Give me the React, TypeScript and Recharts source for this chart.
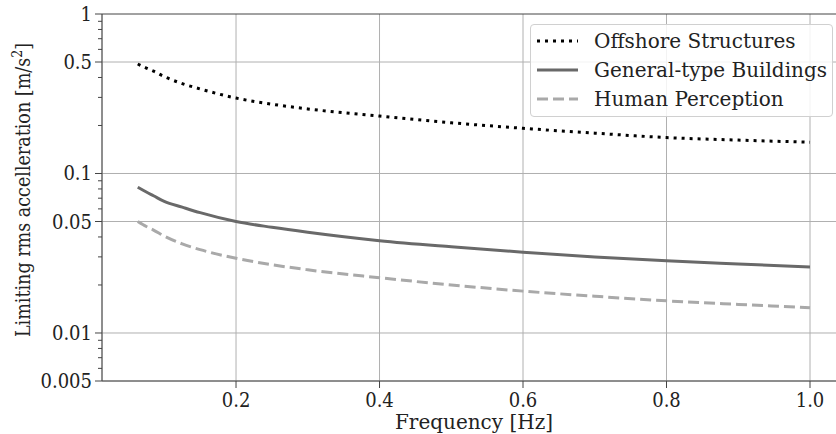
import React from 'react'
import { LineChart, Line, XAxis, YAxis, CartesianGrid, ReferenceLine, Legend } from 'recharts'

const freqs = [0.063, 0.075, 0.085, 0.1, 0.125, 0.15, 0.2, 0.25, 0.3, 0.4, 0.5, 0.6, 0.7, 0.8, 0.9, 1.0]
const offshore = [0.486, 0.458, 0.438, 0.405, 0.366, 0.339, 0.297, 0.272, 0.254, 0.229, 0.208, 0.192, 0.179, 0.168, 0.162, 0.157]
const buildings = [0.082, 0.0765, 0.0725, 0.0668, 0.0615, 0.0568, 0.05, 0.046, 0.0428, 0.0379, 0.0347, 0.0321, 0.03, 0.0284, 0.0271, 0.0259]
const perception = [0.05, 0.0465, 0.0442, 0.0405, 0.0362, 0.0333, 0.0294, 0.0268, 0.0249, 0.0222, 0.02, 0.0183, 0.017, 0.0159, 0.0151, 0.0144]

const xTicks = [0.2, 0.4, 0.6, 0.8, 1.0]
const yMajor = [0.005, 0.01, 0.05, 0.1, 0.5, 1]
const yMinor = [0.006, 0.007, 0.008, 0.009, 0.02, 0.03, 0.04, 0.06, 0.07, 0.08, 0.09, 0.2, 0.3, 0.4, 0.6, 0.7, 0.8, 0.9]
const yLabels: Record<string, string> = { '0.005': '0.005', '0.01': '0.01', '0.05': '0.05', '0.1': '0.1', '0.5': '0.5', '1': '1' }

const series = [
  { key: 'offshore', name: 'Offshore Structures', color: '#000000', dash: '3 5' },
  { key: 'buildings', name: 'General-type Buildings', color: '#696969', dash: undefined },
  { key: 'perception', name: 'Human Perception', color: '#a9a9a9', dash: '11 5' },
]

const data = freqs.map((f, i) => ({
  f,
  offshore: offshore[i],
  buildings: buildings[i],
  perception: perception[i],
}))

const SERIF = '"DejaVu Serif", serif'
const COND = '"DejaVu Serif Condensed", "DejaVu Serif", serif'
const FS = 20
const AXIS = '#444444'
const GRID = '#b0b0b0'

const YTick = (props: any) => {
  const { x, y, payload } = props
  const v = payload.value
  const label = yLabels[String(v)]
  const major = label !== undefined
  return (
    <g>
      <line x1={x - (major ? 7 : 4)} x2={x} y1={y} y2={y} stroke={AXIS} strokeWidth={1} />
      {major && (
        <text x={x - 10} y={y} dy={7} textAnchor="end" fontFamily={COND} fontSize={FS} fill="#222">
          {label}
        </text>
      )}
    </g>
  )
}

const XTick = (props: any) => {
  const { x, y, payload } = props
  return (
    <g>
      <line x1={x} x2={x} y1={y} y2={y + 7} stroke={AXIS} strokeWidth={1} />
      <text x={x} y={y + 26} textAnchor="middle" fontFamily={COND} fontSize={FS} fill="#222">
        {Number(payload.value).toFixed(1)}
      </text>
    </g>
  )
}

const LegendBox = () => (
  <div
    style={{
      width: 303,
      height: 93,
      border: '1px solid #d0d0d0',
      borderRadius: 4,
      background: 'rgba(255,255,255,0.85)',
      boxSizing: 'border-box',
      paddingTop: 1,
    }}
  >
    {series.map((s) => (
      <div key={s.key} style={{ display: 'flex', alignItems: 'center', height: 29 }}>
        <svg width={63} height={10} style={{ flex: 'none' }}>
          <line x1={6} x2={47} y1={5} y2={5} stroke={s.color} strokeWidth={3} strokeDasharray={s.dash} />
        </svg>
        <span style={{ fontFamily: SERIF, fontSize: FS, color: '#222', whiteSpace: 'nowrap' }}>{s.name}</span>
      </div>
    ))}
  </div>
)

export default function App() {
  return (
    <div style={{ position: 'absolute', left: 0, top: 0, width: 836, height: 434, overflow: 'hidden', background: '#fff' }}>
      <LineChart width={850} height={434} data={data} margin={{ top: 14, right: 8, left: 0, bottom: 0 }}>
        <CartesianGrid horizontal={false} stroke={GRID} strokeWidth={1} />
        <XAxis
          dataKey="f"
          type="number"
          domain={[0.0132, 1.0446]}
          ticks={xTicks}
          allowDataOverflow
          height={53}
          tickSize={0}
          tickMargin={0}
          tickLine={false}
          tick={<XTick />}
          stroke={AXIS}
          label={{
            content: () => (
              <text x={474} y={429} textAnchor="middle" fontFamily={SERIF} fontSize={FS} fill="#222">
                Frequency [Hz]
              </text>
            ),
          }}
        />
        <YAxis
          scale="log"
          domain={[0.005, 1]}
          ticks={[...yMajor, ...yMinor]}
          allowDataOverflow
          width={102}
          tickSize={0}
          tickMargin={0}
          tickLine={false}
          tick={<YTick />}
          interval={0}
          stroke={AXIS}
          label={{
            content: () => (
              <text x={0} y={0} transform="translate(30,190) rotate(-90)" textAnchor="middle" fontFamily={COND} fontSize={19.5} fill="#222">
                Limiting rms accelleration [m/s
                <tspan dy={-8} fontSize={14}>2</tspan>
                <tspan dy={8}>]</tspan>
              </text>
            ),
          }}
        />
        {yMajor.map((v) => (
          <ReferenceLine key={v} y={v} stroke={v === 1 ? AXIS : GRID} strokeWidth={1} />
        ))}
        {series.map((s) => (
          <Line
            key={s.key}
            dataKey={s.key}
            name={s.name}
            type="monotone"
            stroke={s.color}
            strokeWidth={3}
            strokeDasharray={s.dash}
            dot={false}
            isAnimationActive={false}
          />
        ))}
        <Legend
          layout="horizontal"
          align="center"
          verticalAlign="middle"
          content={<LegendBox />}
          wrapperStyle={{ position: 'absolute', left: 530, top: 24, width: 303, height: 93 }}
        />
      </LineChart>
    </div>
  )
}
